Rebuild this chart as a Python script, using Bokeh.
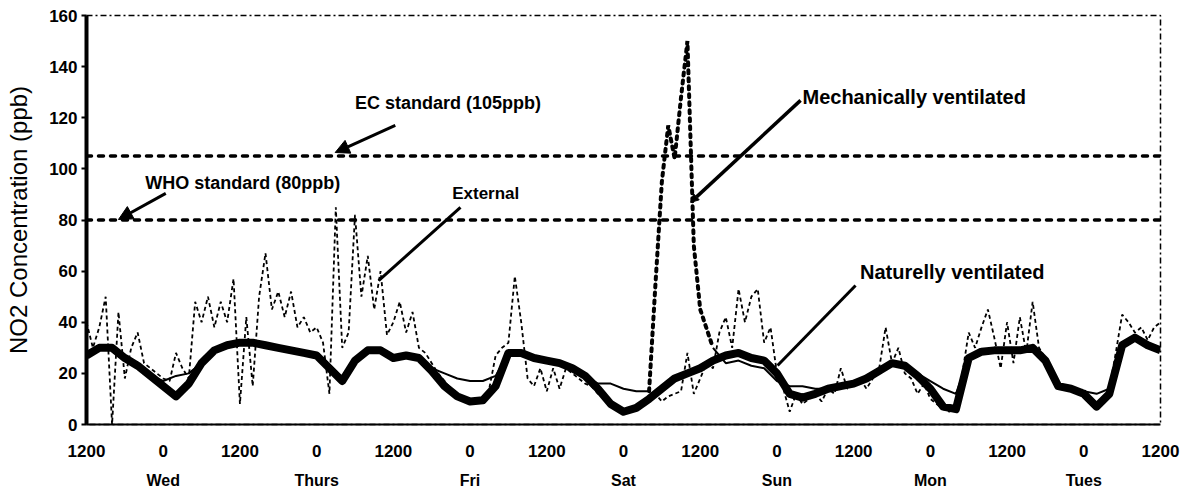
import numpy as np
from bokeh.plotting import figure
from bokeh.models import (Range1d, LinearAxis, FixedTicker, Span, Label, Arrow,
                          NormalHead, ColumnDataSource)
from bokeh.embed import file_html
from bokeh.resources import INLINE

FONT = "Liberation Sans"

# ---------------- data ----------------
# hours since Tuesday 12:00
nat_hours = list(range(0, 169, 2))
nat_vals = [27, 30, 30, 26, 23, 19, 15, 11, 16, 24,
            29, 31, 32, 32, 31, 30, 29, 28, 27, 22,
            17, 25, 29, 29, 26, 27, 26, 21, 15, 11,
            9, 9.5, 15, 28, 28, 26, 25, 24, 22, 19,
            14, 8, 5, 6.5, 10, 14, 18, 20, 22, 25,
            27, 28, 26, 25, 20, 12, 10.5, 12, 14, 15,
            16, 18, 21, 24, 23, 19, 14, 7, 6, 26,
            28.5, 29, 29, 29, 30, 25, 15, 14, 12, 7,
            12, 31, 34, 31, 29]

mech_hours = [0, 2, 4, 6, 8, 10, 12, 14, 16, 18,
              20, 22, 24, 26, 28, 30, 32, 34, 36, 38,
              40, 42, 44, 46, 48, 50, 52, 54, 56, 58,
              60, 62, 64, 66, 68, 70, 72, 74, 76, 78,
              80, 82, 84, 86, 88, 89, 90, 91, 92, 93,
              94, 95, 96, 98, 100, 102, 104, 106, 108, 110,
              112, 114, 116, 118, 120, 122, 124, 126, 128, 130,
              132, 134, 136, 138, 140, 142, 144, 146, 148, 150,
              152, 154, 156, 158, 160, 162, 164, 166, 168]
mech_vals = [27, 30, 30, 26, 23, 19, 17, 19, 20, 24,
             29, 31, 32, 32, 31, 30, 29, 28, 27, 22,
             17, 25, 29, 29, 26, 27, 26, 22, 20, 18,
             17, 17, 19, 28, 28, 26, 25, 24, 22, 19,
             16, 16, 14, 13, 13, 55, 95, 117, 104, 128,
             150, 70, 45, 30, 24, 25, 23, 22, 17, 15,
             15, 14, 14, 15, 16, 18, 21, 24, 22, 20,
             17, 14, 12, 26, 28.5, 29, 29, 29, 30, 25,
             15, 14, 13, 12, 14, 31, 34, 31, 29]
spike_start, spike_end = 88, 98   # hours of the mechanical ventilation episode

ext_hours = list(range(0, 169))
ext_vals = [40, 30, 38, 50, 0, 44, 18, 30, 36, 24,
            22, 20, 18, 17, 28, 22, 18, 48, 40, 50,
            38, 48, 40, 57, 8, 42, 15, 50, 67, 45,
            52, 42, 52, 38, 42, 36, 38, 32, 12, 85,
            30, 36, 82, 50, 66, 45, 60, 35, 40, 48,
            36, 44, 30, 28, 24, 20, 17, 14, 12, 10,
            9, 10, 10, 14, 27, 30, 32, 58, 40, 18,
            15, 22, 13, 22, 14, 22, 20, 18, 16, 15,
            12, 10, 8, 6, 5, 6, 7, 8, 10, 12,
            9, 11, 12, 13, 28, 12, 18, 24, 22, 36,
            42, 30, 53, 40, 50, 53, 32, 38, 20, 14,
            5, 12, 8, 10, 12, 9, 14, 12, 22, 14,
            16, 18, 14, 18, 22, 38, 24, 30, 20, 18,
            12, 16, 10, 8, 6, 5, 8, 20, 36, 30,
            38, 45, 34, 22, 40, 24, 42, 28, 48, 30,
            26, 20, 16, 14, 15, 12, 14, 10, 8, 10,
            14, 28, 43, 40, 36, 38, 33, 38, 40]

standards = [105, 80]

tick_hours = list(range(0, 169, 12))
tick_labels = ["1200" if h % 24 == 0 else "0" for h in tick_hours]
day_hours = [12, 36, 60, 84, 108, 132, 156]
day_labels = ["Wed", "Thurs", "Fri", "Sat", "Sun", "Mon", "Tues"]

ann_text = ["EC standard (105ppb)", "WHO standard (80ppb)", "External",
            "Mechanically ventilated", "Naturelly ventilated"]
ann_x = [42, 9.2, 57.2, 112, 121]
ann_y = [125.6, 94.3, 90.4, 128, 59.5]
ann_size = ["18px", "18px", "17px", "20px", "20px"]

head_x0 = [48.3, 12.4]
head_y0 = [117, 90.4]
head_x1 = [38.9, 5.0]
head_y1 = [106.4, 80.2]
mech_ptr = dict(x0=111.7, y0=126.8, x1=94.5, y1=86.9)
line_x0 = [58.5, 120.3]
line_y0 = [84.9, 54.4]
line_x1 = [45.7, 108.1]
line_y1 = [56.3, 23.1]

# ---------------- figure ----------------
p = figure(width=1190, height=491, output_backend="svg", toolbar_location=None,
           x_range=Range1d(0, 168), y_range=Range1d(0, 160),
           min_border_left=86, min_border_right=30, min_border_top=15,
           min_border_bottom=67)
p.grid.visible = False
p.background_fill_color = "white"
p.border_fill_color = "white"
p.outline_line_color = "black"
p.outline_line_width = 1.5
p.outline_line_dash = "6 3 2 3"

# y axis
ya = p.yaxis[0]
ya.ticker = FixedTicker(ticks=list(range(0, 161, 20)))
ya.axis_line_width = 4
ya.axis_line_color = "black"
ya.major_tick_out = 5
ya.major_tick_in = 0
ya.minor_tick_out = 0
ya.major_tick_line_width = 2
ya.major_label_standoff = 4
ya.major_label_text_font = FONT
ya.major_label_text_font_style = "bold"
ya.major_label_text_font_size = "17px"
ya.major_label_text_color = "black"
ya.axis_label = "NO2 Concentration (ppb)"
ya.axis_label_text_font = FONT
ya.axis_label_text_font_style = "normal"
ya.axis_label_text_font_size = "24px"
ya.axis_label_text_color = "black"
ya.axis_label_standoff = 14

# x axis (hour ticks)
xa = p.xaxis[0]
xa.ticker = FixedTicker(ticks=tick_hours)
xa.major_label_overrides = {h: t for h, t in zip(tick_hours, tick_labels)}
xa.axis_line_width = 2
xa.axis_line_color = "black"
xa.major_tick_out = 0
xa.major_tick_in = 0
xa.minor_tick_out = 0
xa.major_label_standoff = 20
xa.major_label_text_font = FONT
xa.major_label_text_font_style = "bold"
xa.major_label_text_font_size = "17px"
xa.major_label_text_color = "black"

# day axis
da = LinearAxis(ticker=FixedTicker(ticks=day_hours),
                major_label_overrides={h: d for h, d in zip(day_hours, day_labels)})
da.axis_line_color = None
da.major_tick_line_color = None
da.minor_tick_line_color = None
da.major_label_standoff = 6
da.major_label_text_font = FONT
da.major_label_text_font_style = "bold"
da.major_label_text_font_size = "16px"
da.major_label_text_color = "black"
p.add_layout(da, "below")

# standards
for s in standards:
    p.add_layout(Span(location=s, dimension="width", line_color="black",
                      line_width=3.5, line_dash="5 7", line_cap="round"))

# series
p.line(ext_hours, ext_vals, line_color="black", line_width=1.8, line_dash="4 3")
p.line(nat_hours, nat_vals, line_color="black", line_width=8, line_join="round")

mh = np.array(mech_hours, dtype=float)
mv = np.array(mech_vals, dtype=float)
m1 = mh <= spike_start
m2 = (mh >= spike_start) & (mh <= spike_end)
m3 = mh >= spike_end
p.line(mh[m1], mv[m1], line_color="black", line_width=2)
p.line(mh[m3], mv[m3], line_color="black", line_width=2)
p.line(mh[m2], mv[m2], line_color="black", line_width=4, line_dash="3 5",
       line_cap="round")

# annotations
for t, x, y, fs in zip(ann_text, ann_x, ann_y, ann_size):
    p.add_layout(Label(x=x, y=y, text=t, text_font=FONT, text_font_size=fs,
                       text_color="black", text_baseline="middle",
                       text_align="left", text_font_style="bold"))

hsrc = ColumnDataSource(dict(x0=head_x0, y0=head_y0, x1=head_x1, y1=head_y1))
p.add_layout(Arrow(end=NormalHead(size=14, fill_color="black", line_color="black"),
                   x_start="x0", y_start="y0", x_end="x1", y_end="y1",
                   source=hsrc, line_width=3, line_color="black"))
p.add_layout(Arrow(end=NormalHead(size=8, fill_color="black", line_color="black"),
                   x_start=mech_ptr["x0"], y_start=mech_ptr["y0"],
                   x_end=mech_ptr["x1"], y_end=mech_ptr["y1"],
                   line_width=3.5, line_color="black"))
p.segment(line_x0, line_y0, line_x1, line_y1, line_color="black", line_width=3)

open("out.html", "w").write(file_html(p, INLINE))
